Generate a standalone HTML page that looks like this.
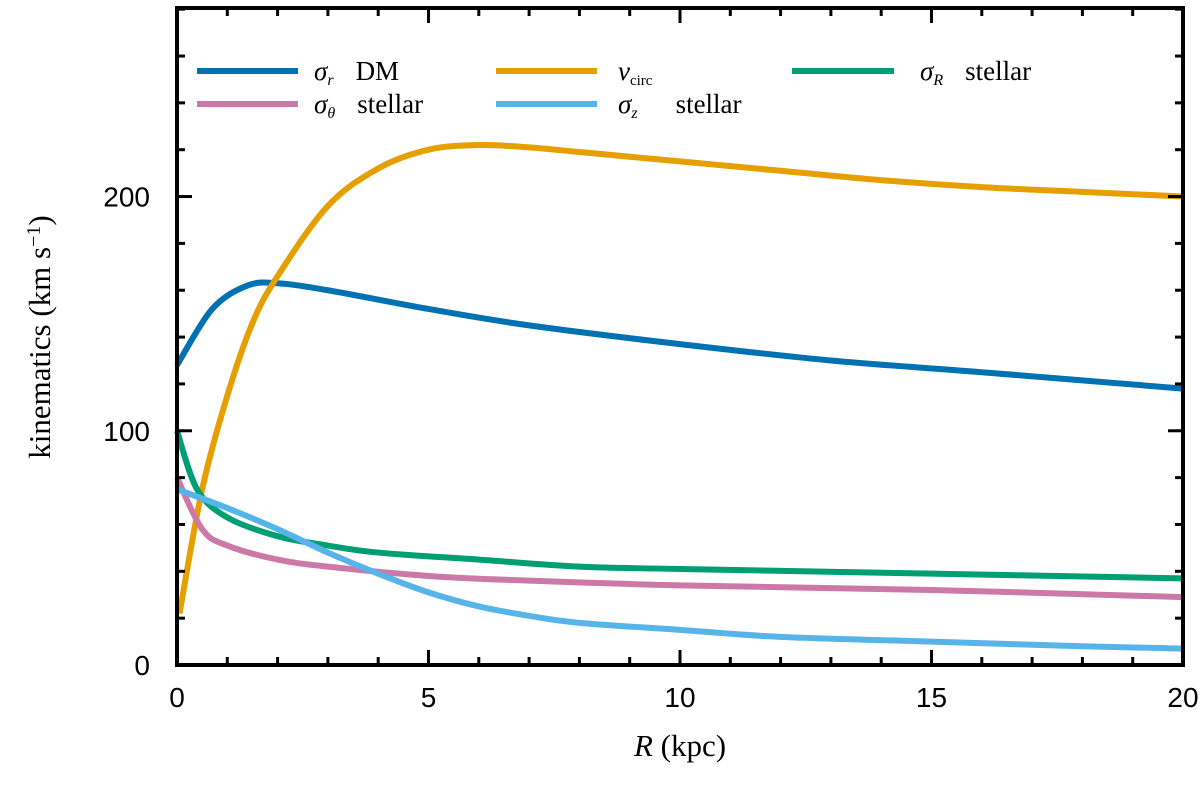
<!DOCTYPE html>
<html><head><meta charset="utf-8"><style>
body{margin:0;background:#fff}
svg text{font-family:"Liberation Serif",serif;fill:#000}
svg text.tk{font-family:"Liberation Sans",sans-serif}
</style></head><body>
<svg id="chart" width="1200" height="792"></svg>
<script>
const R_vc=[0.05,0.5,1,1.5,2,3,4,5,6,7,8,10,12,14,16,18,20];
const V_vc=[22,75,115,146,166,196,212,220,222,221,219,215,211,207,204,202,200];
const R_dm=[0,0.7,1.4,2,3,5,7,10,13,16,20];
const V_dm=[128,152,162,163,160,152,145,137,130,125,118];
const R_sR=[0,0.4,1,2,3,4,6,8,10,15,20];
const V_sR=[100,75,63,55,51,48,45,42,41,39,37];
const R_st=[0,0.5,1,2,3,5,7,10,15,20];
const V_st=[80,58,51,45,42,38,36,34,32,29];
const R_sz=[0,1,2,3,4,5,6,7,8,10,12,15,18,20];
const V_sz=[75,67,58,48,39,31,25,21,18,15,12,10,8,7];
const xTicks=[0,5,10,15,20];
const yTicks=[0,100,200];
const NS="http://www.w3.org/2000/svg";
const svg=document.getElementById('chart');
const X0=177,X1=1183,Y0=665,Y1=8,XMAX=20,YMAX=280.5;
const xs=v=>X0+(X1-X0)*v/XMAX, ys=v=>Y0-(Y0-Y1)*v/YMAX;
function mk(t,a){const e=document.createElementNS(NS,t);for(const k in a)e.setAttribute(k,a[k]);svg.appendChild(e);return e;}
function series(rs,vs,color,name){
  const P=rs.map((r,i)=>[xs(r),ys(vs[i])]);
  let d='M'+P[0][0]+','+P[0][1];
  for(let i=0;i<P.length-1;i++){
    const p0=P[Math.max(i-1,0)],p1=P[i],p2=P[i+1],p3=P[Math.min(i+2,P.length-1)];
    const c1=[p1[0]+(p2[0]-p0[0])/6,p1[1]+(p2[1]-p0[1])/6];
    const c2=[p2[0]-(p3[0]-p1[0])/6,p2[1]-(p3[1]-p1[1])/6];
    d+=' C'+c1+' '+c2+' '+p2;
  }
  const p=mk('path',{d:d,fill:'none',stroke:color,'stroke-width':6,'stroke-linejoin':'round'});
  
  
}
series(R_dm,V_dm,'#0072b2','sigma-r-dm-line');
series(R_vc,V_vc,'#e69f00','v-circ-line');
series(R_sR,V_sR,'#009e73','sigma-R-stellar-line');
series(R_st,V_st,'#cc79a7','sigma-theta-stellar-line');
series(R_sz,V_sz,'#56b4e9','sigma-z-stellar-line');
const f=mk('rect',{x:X0,y:Y1,width:X1-X0,height:Y0-Y1,fill:'none',stroke:'#000','stroke-width':4});


for(let v=0;v<=XMAX;v++){const L=v%5===0?15:8;
  mk('line',{x1:xs(v),x2:xs(v),y1:Y0,y2:Y0-L,stroke:'#000','stroke-width':3});
  mk('line',{x1:xs(v),x2:xs(v),y1:Y1,y2:Y1+L,stroke:'#000','stroke-width':3});}
for(let v=0;v<=280;v+=20){const L=v%100===0?15:8;
  mk('line',{x1:X0,x2:X0+L,y1:ys(v),y2:ys(v),stroke:'#000','stroke-width':3});
  mk('line',{x1:X1,x2:X1-L,y1:ys(v),y2:ys(v),stroke:'#000','stroke-width':3});}
xTicks.forEach(v=>{const t=mk('text',{x:xs(v),y:707,'text-anchor':'middle','font-size':28,'class':'tk'});t.textContent=v;
  });
yTicks.forEach(v=>{const t=mk('text',{x:150,y:ys(v)+10,'text-anchor':'end','font-size':28,'class':'tk'});t.textContent=v;
  });
</script>
<svg style="position:absolute;left:0;top:0" width="1200" height="792">
<text x="680" y="756" text-anchor="middle" font-size="31"><tspan font-style="italic">R</tspan> (kpc)</text>
<text transform="translate(50,337) rotate(-90)" text-anchor="middle" font-size="31">kinematics (km s<tspan dy="-10" font-size="20">−1</tspan><tspan dy="10">)</tspan></text>
<g font-size="27">
<line x1="197" x2="298" y1="71" y2="71" stroke="#0072b2" stroke-width="6"/>
<text x="314" y="80"><tspan font-style="italic">σ</tspan><tspan font-style="italic" font-size="16" dy="5">r</tspan><tspan dy="-5" dx="22">DM</tspan></text>
<line x1="496" x2="597" y1="71" y2="71" stroke="#e69f00" stroke-width="6"/>
<text x="618" y="80"><tspan font-style="italic">v</tspan><tspan font-size="15" dy="5">circ</tspan></text>
<line x1="792" x2="894" y1="71" y2="71" stroke="#009e73" stroke-width="6"/>
<text x="920" y="80"><tspan font-style="italic">σ</tspan><tspan font-style="italic" font-size="16" dy="5">R</tspan><tspan dy="-5" dx="22">stellar</tspan></text>
<line x1="197" x2="298" y1="104" y2="104" stroke="#cc79a7" stroke-width="6"/>
<text x="314" y="113"><tspan font-style="italic">σ</tspan><tspan font-style="italic" font-size="16" dy="5">θ</tspan><tspan dy="-5" dx="22">stellar</tspan></text>
<line x1="496" x2="597" y1="104" y2="104" stroke="#56b4e9" stroke-width="6"/>
<text x="618" y="113"><tspan font-style="italic">σ</tspan><tspan font-style="italic" font-size="16" dy="5">z</tspan><tspan dy="-5" dx="38">stellar</tspan></text>
</g>
</svg>
</body></html>
